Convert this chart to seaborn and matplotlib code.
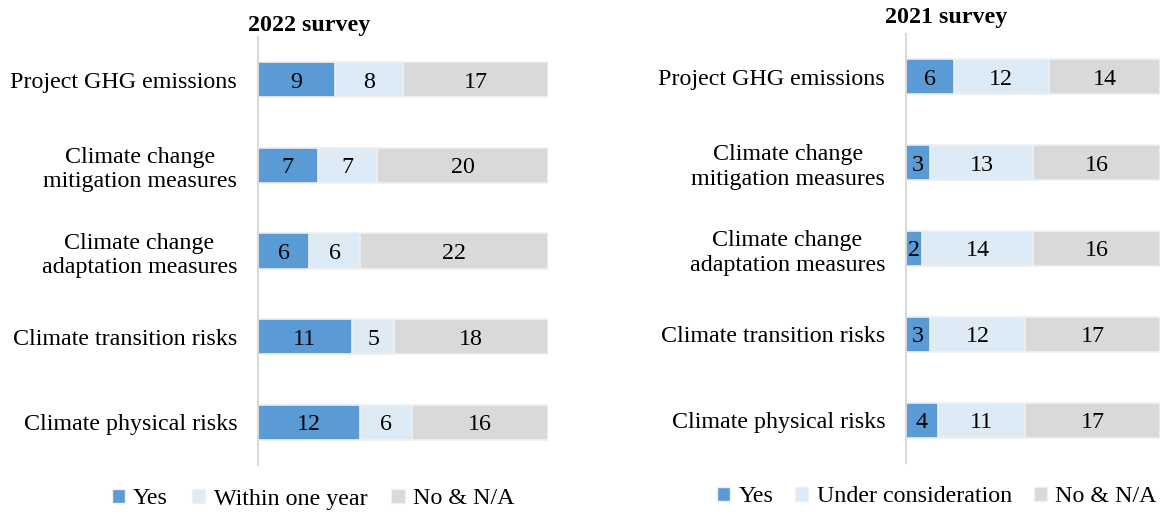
import numpy as np
import pandas as pd
import matplotlib
matplotlib.use("Agg")
import matplotlib.pyplot as plt
import seaborn as sns
from matplotlib.patches import Patch

categories = ['Project GHG emissions',
              'Climate change\nmitigation measures',
              'Climate change\nadaptation measures',
              'Climate transition risks',
              'Climate physical risks']

# 2022 survey
yes_2022 = [9, 7, 6, 11, 12]
within_2022 = [8, 7, 6, 5, 6]
no_2022 = [17, 20, 22, 18, 16]

# 2021 survey
yes_2021 = [6, 3, 2, 3, 4]
under_2021 = [12, 13, 14, 12, 11]
no_2021 = [14, 16, 16, 17, 17]

col_yes = '#5B9BD5'
col_mid = '#DDEBF7'
col_no = '#D9D9D9'
edge = '#F0F0F0'

sns.set_theme(style='white')
plt.rcParams['font.family'] = ['Liberation Serif', 'DejaVu Serif']
plt.rcParams['text.color'] = 'black'
plt.rcParams['ytick.labelcolor'] = 'black'
fs = 17.3

fig = plt.figure(figsize=(11.61, 5.14), dpi=100)
W, H = 1161, 514


def stacked(ax, yes, mid, no, mid_name, xmax):
    df = pd.DataFrame({'cat': categories, 'yes': yes, 'mid': mid, 'no': no})
    df['c2'] = df['yes'] + df['mid']
    df['c3'] = df['c2'] + df['no']
    for col, c in [('c3', col_no), ('c2', col_mid), ('yes', col_yes)]:
        sns.barplot(data=df, x=col, y='cat', orient='h', color=c, width=0.41,
                    edgecolor=edge, linewidth=1.2, saturation=1, ax=ax)
    for i, r in df.iterrows():
        ax.text(r['yes'] / 2, i, str(r['yes']), ha='center', va='center_baseline', fontsize=fs)
        ax.text(r['yes'] + r['mid'] / 2, i, str(r['mid']), ha='center', va='center_baseline', fontsize=fs)
        ax.text(r['c2'] + r['no'] / 2, i, str(r['no']), ha='center', va='center_baseline', fontsize=fs)
    ax.set_xlim(0, xmax)
    ax.set_xlabel('')
    ax.set_ylabel('')
    ax.set_xticks([])
    for s in ['top', 'right', 'bottom']:
        ax.spines[s].set_visible(False)
    ax.spines['left'].set_color('#D9D9D9')
    ax.spines['left'].set_linewidth(1.5)
    ax.tick_params(axis='y', length=0, pad=15, labelsize=fs)
    for t in ax.get_yticklabels():
        t.set_multialignment('center')
        t.set_linespacing(1.22)
    handles = [Patch(facecolor=col_yes, edgecolor=edge),
               Patch(facecolor=col_mid, edgecolor=edge),
               Patch(facecolor=col_no, edgecolor=edge)]
    return handles, ['Yes', mid_name, 'No & N/A']


ax1 = fig.add_axes([258 / W, (514 - 465) / H, 290 / W, 428 / H])
h1, l1 = stacked(ax1, yes_2022, within_2022, no_2022, 'Within one year', 34)
ax1.set_ylim(4.5, -0.5)
fig.text(309 / W, 1 - 25 / H, '2022 survey', ha='center', va='center',
         fontsize=fs, fontweight='bold')
fig.legend(h1, l1, loc='center', bbox_to_anchor=(313 / W, 1 - 499 / H), ncol=3,
           frameon=False, fontsize=fs, handlelength=0.55, handleheight=0.55,
           handletextpad=0.35, columnspacing=1.0)

ax2 = fig.add_axes([906 / W, (514 - 463) / H, 254 / W, 429 / H])
h2, l2 = stacked(ax2, yes_2021, under_2021, no_2021, 'Under consideration', 32)
ax2.set_ylim(4.5, -0.5)
fig.text(946 / W, 1 - 18 / H, '2021 survey', ha='center', va='center',
         fontsize=fs, fontweight='bold')
fig.legend(h2, l2, loc='center', bbox_to_anchor=(937 / W, 1 - 497 / H), ncol=3,
           frameon=False, fontsize=fs, handlelength=0.55, handleheight=0.55,
           handletextpad=0.35, columnspacing=0.9)

fig.savefig('out.png', dpi=100)
